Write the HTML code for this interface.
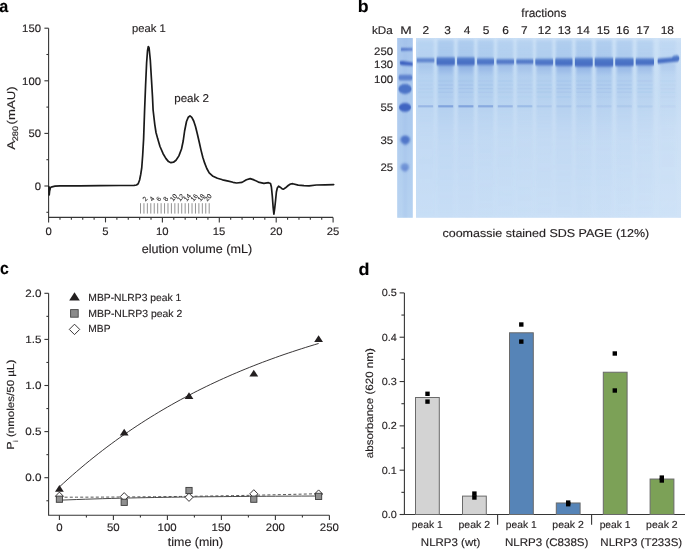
<!DOCTYPE html>
<html><head><meta charset="utf-8"><style>
html,body{margin:0;padding:0;background:#fff;}
body{width:685px;height:549px;overflow:hidden;}
svg{display:block;font-family:"Liberation Sans", sans-serif;will-change:transform;}
text{stroke:#231f20;stroke-width:0.15px;text-rendering:geometricPrecision;}
</style></head><body>
<svg width="685" height="549" viewBox="0 0 685 549">
<defs>
<linearGradient id="gM" x1="0" y1="0" x2="0" y2="1">
 <stop offset="0" stop-color="#a9c7ed"/><stop offset="0.5" stop-color="#afcdef"/><stop offset="1" stop-color="#bad6f2"/>
</linearGradient>
<linearGradient id="gG" x1="0" y1="0" x2="0" y2="1">
 <stop offset="0" stop-color="#c7ddf5"/><stop offset="0.03" stop-color="#bed8f3"/><stop offset="0.3" stop-color="#bdd7f2"/><stop offset="0.5" stop-color="#c4dbf4"/><stop offset="1" stop-color="#c9dff6"/>
</linearGradient>
<linearGradient id="gH" x1="0" y1="0" x2="1" y2="0">
 <stop offset="0" stop-color="#ffffff" stop-opacity="0"/><stop offset="0.6" stop-color="#ffffff" stop-opacity="0.04"/><stop offset="1" stop-color="#ffffff" stop-opacity="0.14"/>
</linearGradient>
<linearGradient id="gL" x1="0" y1="0" x2="0" y2="1">
 <stop offset="0" stop-color="#8ab2e4" stop-opacity="0.3"/><stop offset="0.09" stop-color="#8ab2e4" stop-opacity="0.4"/><stop offset="0.15" stop-color="#8ab2e4" stop-opacity="0.42"/><stop offset="0.34" stop-color="#8ab2e4" stop-opacity="0.24"/><stop offset="0.57" stop-color="#8ab2e4" stop-opacity="0.08"/><stop offset="1" stop-color="#8ab2e4" stop-opacity="0.03"/>
</linearGradient>
<linearGradient id="gSm" x1="0" y1="0" x2="0" y2="1">
 <stop offset="0" stop-color="#6b8fd6" stop-opacity="0.5"/><stop offset="1" stop-color="#6b8fd6" stop-opacity="0"/>
</linearGradient>
<linearGradient id="gGap" x1="0" y1="0" x2="0" y2="1">
 <stop offset="0" stop-color="#d0e5f8" stop-opacity="0.55"/><stop offset="0.45" stop-color="#d0e5f8" stop-opacity="0.3"/><stop offset="0.75" stop-color="#d0e5f8" stop-opacity="0.05"/><stop offset="1" stop-color="#d0e5f8" stop-opacity="0"/>
</linearGradient>
<linearGradient id="gB" x1="0" y1="0" x2="0" y2="1">
 <stop offset="0" stop-color="#5a84cd"/><stop offset="0.4" stop-color="#4b73c6"/><stop offset="1" stop-color="#456bc2"/>
</linearGradient>
<filter id="bl1" x="-20%" y="-20%" width="140%" height="140%"><feGaussianBlur stdDeviation="1.0"/></filter>
<filter id="bl2" x="-20%" y="-50%" width="140%" height="200%"><feGaussianBlur stdDeviation="0.7 1.0"/></filter>
<filter id="bl3" x="-20%" y="-50%" width="140%" height="200%"><feGaussianBlur stdDeviation="0.5"/></filter>
<linearGradient id="gMs" x1="0" y1="0" x2="1" y2="0">
 <stop offset="0" stop-color="#c0d6f2" stop-opacity="0.5"/><stop offset="0.25" stop-color="#9ab8e6" stop-opacity="0"/><stop offset="0.5" stop-color="#9ab8e6" stop-opacity="0.35"/><stop offset="0.75" stop-color="#9ab8e6" stop-opacity="0.1"/><stop offset="1" stop-color="#9ab8e6" stop-opacity="0.2"/>
</linearGradient>
<filter id="bl4" x="-50%" y="-50%" width="200%" height="200%"><feGaussianBlur stdDeviation="1.3"/></filter>
<clipPath id="cmk"><rect x="397.2" y="38" width="15.6" height="179.8"/></clipPath>
<clipPath id="cgel"><rect x="416" y="38" width="265" height="179.8"/></clipPath>
</defs>
<text x="-0.78" y="11.80" font-size="17" font-weight="bold" textLength="9.01" lengthAdjust="spacingAndGlyphs" fill="#000">a</text>
<path d="M48.6,28.20 V217.4 H333.10" fill="none" stroke="#363636" stroke-width="1.1"/>
<line x1="44.40" y1="186.00" x2="48.60" y2="186.00" stroke="#363636" stroke-width="1.1"/>
<text x="34.75" y="189.75" font-size="10.9" textLength="6.29" lengthAdjust="spacingAndGlyphs" fill="#231f20">0</text>
<line x1="44.40" y1="133.40" x2="48.60" y2="133.40" stroke="#363636" stroke-width="1.1"/>
<text x="28.51" y="137.15" font-size="10.9" textLength="12.58" lengthAdjust="spacingAndGlyphs" fill="#231f20">50</text>
<line x1="44.40" y1="80.80" x2="48.60" y2="80.80" stroke="#363636" stroke-width="1.1"/>
<text x="22.14" y="84.55" font-size="10.9" textLength="18.87" lengthAdjust="spacingAndGlyphs" fill="#231f20">100</text>
<line x1="44.40" y1="28.20" x2="48.60" y2="28.20" stroke="#363636" stroke-width="1.1"/>
<text x="22.14" y="31.95" font-size="10.9" textLength="18.87" lengthAdjust="spacingAndGlyphs" fill="#231f20">150</text>
<line x1="46.40" y1="212.30" x2="48.60" y2="212.30" stroke="#363636" stroke-width="1.1"/>
<line x1="46.40" y1="159.70" x2="48.60" y2="159.70" stroke="#363636" stroke-width="1.1"/>
<line x1="46.40" y1="107.10" x2="48.60" y2="107.10" stroke="#363636" stroke-width="1.1"/>
<line x1="46.40" y1="54.50" x2="48.60" y2="54.50" stroke="#363636" stroke-width="1.1"/>
<line x1="48.60" y1="217.40" x2="48.60" y2="222.40" stroke="#363636" stroke-width="1.1"/>
<line x1="59.98" y1="217.40" x2="59.98" y2="219.80" stroke="#363636" stroke-width="1.1"/>
<line x1="71.36" y1="217.40" x2="71.36" y2="219.80" stroke="#363636" stroke-width="1.1"/>
<line x1="82.74" y1="217.40" x2="82.74" y2="219.80" stroke="#363636" stroke-width="1.1"/>
<line x1="94.12" y1="217.40" x2="94.12" y2="219.80" stroke="#363636" stroke-width="1.1"/>
<line x1="105.50" y1="217.40" x2="105.50" y2="222.40" stroke="#363636" stroke-width="1.1"/>
<line x1="116.88" y1="217.40" x2="116.88" y2="219.80" stroke="#363636" stroke-width="1.1"/>
<line x1="128.26" y1="217.40" x2="128.26" y2="219.80" stroke="#363636" stroke-width="1.1"/>
<line x1="139.64" y1="217.40" x2="139.64" y2="219.80" stroke="#363636" stroke-width="1.1"/>
<line x1="151.02" y1="217.40" x2="151.02" y2="219.80" stroke="#363636" stroke-width="1.1"/>
<line x1="162.40" y1="217.40" x2="162.40" y2="222.40" stroke="#363636" stroke-width="1.1"/>
<line x1="173.78" y1="217.40" x2="173.78" y2="219.80" stroke="#363636" stroke-width="1.1"/>
<line x1="185.16" y1="217.40" x2="185.16" y2="219.80" stroke="#363636" stroke-width="1.1"/>
<line x1="196.54" y1="217.40" x2="196.54" y2="219.80" stroke="#363636" stroke-width="1.1"/>
<line x1="207.92" y1="217.40" x2="207.92" y2="219.80" stroke="#363636" stroke-width="1.1"/>
<line x1="219.30" y1="217.40" x2="219.30" y2="222.40" stroke="#363636" stroke-width="1.1"/>
<line x1="230.68" y1="217.40" x2="230.68" y2="219.80" stroke="#363636" stroke-width="1.1"/>
<line x1="242.06" y1="217.40" x2="242.06" y2="219.80" stroke="#363636" stroke-width="1.1"/>
<line x1="253.44" y1="217.40" x2="253.44" y2="219.80" stroke="#363636" stroke-width="1.1"/>
<line x1="264.82" y1="217.40" x2="264.82" y2="219.80" stroke="#363636" stroke-width="1.1"/>
<line x1="276.20" y1="217.40" x2="276.20" y2="222.40" stroke="#363636" stroke-width="1.1"/>
<line x1="287.58" y1="217.40" x2="287.58" y2="219.80" stroke="#363636" stroke-width="1.1"/>
<line x1="298.96" y1="217.40" x2="298.96" y2="219.80" stroke="#363636" stroke-width="1.1"/>
<line x1="310.34" y1="217.40" x2="310.34" y2="219.80" stroke="#363636" stroke-width="1.1"/>
<line x1="321.72" y1="217.40" x2="321.72" y2="219.80" stroke="#363636" stroke-width="1.1"/>
<line x1="333.10" y1="217.40" x2="333.10" y2="222.40" stroke="#363636" stroke-width="1.1"/>
<text x="45.48" y="235.00" font-size="10.9" textLength="6.29" lengthAdjust="spacingAndGlyphs" fill="#231f20">0</text>
<text x="102.31" y="235.00" font-size="10.9" textLength="6.29" lengthAdjust="spacingAndGlyphs" fill="#231f20">5</text>
<text x="155.90" y="235.00" font-size="10.9" textLength="12.58" lengthAdjust="spacingAndGlyphs" fill="#231f20">10</text>
<text x="212.80" y="235.00" font-size="10.9" textLength="12.58" lengthAdjust="spacingAndGlyphs" fill="#231f20">15</text>
<text x="269.90" y="235.00" font-size="10.9" textLength="12.58" lengthAdjust="spacingAndGlyphs" fill="#231f20">20</text>
<text x="326.80" y="235.00" font-size="10.9" textLength="12.58" lengthAdjust="spacingAndGlyphs" fill="#231f20">25</text>
<text x="131.94" y="31.80" font-size="11.1" textLength="33.69" lengthAdjust="spacingAndGlyphs" fill="#231f20">peak 1</text>
<text x="174.23" y="101.90" font-size="11.3" textLength="34.81" lengthAdjust="spacingAndGlyphs" fill="#231f20">peak 2</text>
<text x="141.79" y="252.60" font-size="12.2" textLength="110.33" lengthAdjust="spacingAndGlyphs" fill="#231f20">elution volume (mL)</text>
<text transform="translate(14.60,149.70) rotate(-90)" x="-0.00" y="0" font-size="11.2" textLength="9.10" lengthAdjust="spacingAndGlyphs" fill="#231f20">A</text>
<text transform="translate(17.60,140.90) rotate(-90)" x="-0.43" y="0" font-size="8.0" textLength="15.44" lengthAdjust="spacingAndGlyphs" fill="#231f20">280</text>
<text transform="translate(14.60,123.70) rotate(-90)" x="-0.73" y="0" font-size="11.2" textLength="38.00" lengthAdjust="spacingAndGlyphs" fill="#231f20">(mAU)</text>
<line x1="140.50" y1="203.20" x2="140.50" y2="213.60" stroke="#777" stroke-width="0.8"/>
<line x1="143.94" y1="203.20" x2="143.94" y2="213.60" stroke="#777" stroke-width="0.8"/>
<line x1="147.37" y1="203.20" x2="147.37" y2="213.60" stroke="#777" stroke-width="0.8"/>
<line x1="150.81" y1="203.20" x2="150.81" y2="213.60" stroke="#777" stroke-width="0.8"/>
<line x1="154.24" y1="203.20" x2="154.24" y2="213.60" stroke="#777" stroke-width="0.8"/>
<line x1="157.68" y1="203.20" x2="157.68" y2="213.60" stroke="#777" stroke-width="0.8"/>
<line x1="161.11" y1="203.20" x2="161.11" y2="213.60" stroke="#777" stroke-width="0.8"/>
<line x1="164.54" y1="203.20" x2="164.54" y2="213.60" stroke="#777" stroke-width="0.8"/>
<line x1="167.98" y1="203.20" x2="167.98" y2="213.60" stroke="#777" stroke-width="0.8"/>
<line x1="171.41" y1="203.20" x2="171.41" y2="213.60" stroke="#777" stroke-width="0.8"/>
<line x1="174.85" y1="203.20" x2="174.85" y2="213.60" stroke="#777" stroke-width="0.8"/>
<line x1="178.28" y1="203.20" x2="178.28" y2="213.60" stroke="#777" stroke-width="0.8"/>
<line x1="181.72" y1="203.20" x2="181.72" y2="213.60" stroke="#777" stroke-width="0.8"/>
<line x1="185.16" y1="203.20" x2="185.16" y2="213.60" stroke="#777" stroke-width="0.8"/>
<line x1="188.59" y1="203.20" x2="188.59" y2="213.60" stroke="#777" stroke-width="0.8"/>
<line x1="192.02" y1="203.20" x2="192.02" y2="213.60" stroke="#777" stroke-width="0.8"/>
<line x1="195.46" y1="203.20" x2="195.46" y2="213.60" stroke="#777" stroke-width="0.8"/>
<line x1="198.89" y1="203.20" x2="198.89" y2="213.60" stroke="#777" stroke-width="0.8"/>
<line x1="202.33" y1="203.20" x2="202.33" y2="213.60" stroke="#777" stroke-width="0.8"/>
<line x1="205.76" y1="203.20" x2="205.76" y2="213.60" stroke="#777" stroke-width="0.8"/>
<line x1="209.20" y1="203.20" x2="209.20" y2="213.60" stroke="#777" stroke-width="0.8"/>
<text transform="translate(145.53,201.7) rotate(-50)" font-size="6.6" fill="#222" style="stroke-width:0.1px">2</text>
<text transform="translate(152.41,201.7) rotate(-50)" font-size="6.6" fill="#222" style="stroke-width:0.1px">4</text>
<text transform="translate(159.28,201.7) rotate(-50)" font-size="6.6" fill="#222" style="stroke-width:0.1px">6</text>
<text transform="translate(166.14,201.7) rotate(-50)" font-size="6.6" fill="#222" style="stroke-width:0.1px">8</text>
<text transform="translate(173.01,201.7) rotate(-50)" font-size="6.6" fill="#222" style="stroke-width:0.1px">10</text>
<text transform="translate(179.88,201.7) rotate(-50)" font-size="6.6" fill="#222" style="stroke-width:0.1px">12</text>
<text transform="translate(186.75,201.7) rotate(-50)" font-size="6.6" fill="#222" style="stroke-width:0.1px">14</text>
<text transform="translate(193.62,201.7) rotate(-50)" font-size="6.6" fill="#222" style="stroke-width:0.1px">16</text>
<text transform="translate(200.49,201.7) rotate(-50)" font-size="6.6" fill="#222" style="stroke-width:0.1px">18</text>
<text transform="translate(207.36,201.7) rotate(-50)" font-size="6.6" fill="#222" style="stroke-width:0.1px">20</text>
<path d="M48.90,186.50 L49.20,195.00 L49.60,191.00 L50.50,187.50 L52.00,186.80 L55.00,186.20 L60.00,185.90 L80.00,185.80 L100.00,185.60 L120.00,185.50 L130.00,185.50 L134.00,185.40 L136.50,185.00 L138.20,183.80 L139.60,180.00 L140.70,174.50 L141.70,168.20 L142.70,155.00 L143.60,139.10 L144.60,110.00 L145.60,85.00 L146.60,63.00 L147.50,51.00 L148.30,46.50 L149.10,48.00 L150.30,60.00 L151.50,80.00 L152.50,97.00 L153.10,110.00 L154.80,124.60 L156.00,132.50 L157.80,139.10 L160.00,146.50 L163.10,153.70 L166.00,158.60 L168.50,161.60 L170.90,162.70 L173.50,162.20 L176.00,160.30 L178.90,155.90 L181.50,149.00 L183.20,141.00 L184.60,131.00 L186.50,121.50 L188.30,117.20 L190.00,115.90 L191.80,117.30 L193.70,121.00 L195.50,126.50 L197.30,133.70 L199.20,142.00 L201.00,150.10 L202.80,157.30 L204.60,162.90 L206.80,168.50 L209.20,172.90 L212.50,175.90 L217.40,178.30 L222.50,179.80 L228.30,181.10 L233.00,182.30 L236.60,183.00 L242.00,182.40 L246.40,179.70 L250.20,178.60 L254.00,179.90 L258.40,182.10 L263.90,183.30 L268.50,182.70 L270.50,183.50 L271.40,187.00 L272.30,196.00 L273.20,208.00 L273.90,214.10 L274.70,208.50 L275.60,200.00 L276.40,192.00 L277.30,188.00 L278.60,186.20 L280.20,187.20 L282.20,188.80 L283.60,189.10 L285.50,187.80 L288.20,185.50 L290.50,184.00 L292.70,183.70 L298.20,185.10 L304.00,185.70 L309.10,185.90 L316.40,185.00 L325.00,184.80 L333.70,184.60" fill="none" stroke="#1a1a1a" stroke-width="1.7" stroke-linejoin="round" stroke-linecap="round"/>
<text x="357.73" y="11.80" font-size="17" font-weight="bold" textLength="10.84" lengthAdjust="spacingAndGlyphs" fill="#000">b</text>
<text x="521.37" y="16.70" font-size="11.9" textLength="45.00" lengthAdjust="spacingAndGlyphs" fill="#231f20">fractions</text>
<text x="371.91" y="34.10" font-size="11.0" textLength="20.73" lengthAdjust="spacingAndGlyphs" fill="#231f20">kDa</text>
<text x="400.31" y="34.10" font-size="11.0" textLength="11.43" lengthAdjust="spacingAndGlyphs" fill="#231f20">M</text>
<text x="422.64" y="33.90" font-size="11.3" textLength="6.63" lengthAdjust="spacingAndGlyphs" fill="#231f20">2</text>
<text x="444.15" y="33.90" font-size="11.3" textLength="6.63" lengthAdjust="spacingAndGlyphs" fill="#231f20">3</text>
<text x="463.79" y="33.90" font-size="11.3" textLength="6.63" lengthAdjust="spacingAndGlyphs" fill="#231f20">4</text>
<text x="482.69" y="33.90" font-size="11.3" textLength="6.63" lengthAdjust="spacingAndGlyphs" fill="#231f20">5</text>
<text x="502.29" y="33.90" font-size="11.3" textLength="6.63" lengthAdjust="spacingAndGlyphs" fill="#231f20">6</text>
<text x="521.02" y="33.90" font-size="11.3" textLength="6.63" lengthAdjust="spacingAndGlyphs" fill="#231f20">7</text>
<text x="537.88" y="33.90" font-size="11.3" textLength="13.26" lengthAdjust="spacingAndGlyphs" fill="#231f20">12</text>
<text x="557.68" y="33.90" font-size="11.3" textLength="13.26" lengthAdjust="spacingAndGlyphs" fill="#231f20">13</text>
<text x="576.54" y="33.90" font-size="11.3" textLength="13.26" lengthAdjust="spacingAndGlyphs" fill="#231f20">14</text>
<text x="596.68" y="33.90" font-size="11.3" textLength="13.26" lengthAdjust="spacingAndGlyphs" fill="#231f20">15</text>
<text x="616.08" y="33.90" font-size="11.3" textLength="13.26" lengthAdjust="spacingAndGlyphs" fill="#231f20">16</text>
<text x="636.28" y="33.90" font-size="11.3" textLength="13.26" lengthAdjust="spacingAndGlyphs" fill="#231f20">17</text>
<text x="660.68" y="33.90" font-size="11.3" textLength="13.26" lengthAdjust="spacingAndGlyphs" fill="#231f20">18</text>
<text x="374.06" y="55.40" font-size="10.9" textLength="19.05" lengthAdjust="spacingAndGlyphs" fill="#231f20">250</text>
<text x="374.06" y="68.35" font-size="10.9" textLength="19.05" lengthAdjust="spacingAndGlyphs" fill="#231f20">130</text>
<text x="374.06" y="83.30" font-size="10.9" textLength="19.05" lengthAdjust="spacingAndGlyphs" fill="#231f20">100</text>
<text x="380.49" y="111.15" font-size="10.9" textLength="12.70" lengthAdjust="spacingAndGlyphs" fill="#231f20">55</text>
<text x="380.49" y="144.15" font-size="10.9" textLength="12.70" lengthAdjust="spacingAndGlyphs" fill="#231f20">35</text>
<text x="380.49" y="171.20" font-size="10.9" textLength="12.70" lengthAdjust="spacingAndGlyphs" fill="#231f20">25</text>
<text x="442.45" y="236.70" font-size="11.4" textLength="206.80" lengthAdjust="spacingAndGlyphs" fill="#231f20">coomassie stained SDS PAGE (12%)</text>
<rect x="397.2" y="38" width="15.6" height="179.8" fill="url(#gM)"/>
<rect x="416" y="38" width="265" height="179.8" fill="url(#gG)"/>
<rect x="416" y="38" width="265" height="179.8" fill="url(#gH)"/>
<g clip-path="url(#cgel)">
<g filter="url(#bl1)">
<rect x="434.05" y="38" width="3.2" height="150" fill="url(#gGap)"/>
<rect x="454.20" y="38" width="3.2" height="150" fill="url(#gGap)"/>
<rect x="474.15" y="38" width="3.2" height="150" fill="url(#gGap)"/>
<rect x="493.85" y="38" width="3.2" height="150" fill="url(#gGap)"/>
<rect x="513.45" y="38" width="3.2" height="150" fill="url(#gGap)"/>
<rect x="532.90" y="38" width="3.2" height="150" fill="url(#gGap)"/>
<rect x="552.45" y="38" width="3.2" height="150" fill="url(#gGap)"/>
<rect x="572.25" y="38" width="3.2" height="150" fill="url(#gGap)"/>
<rect x="592.30" y="38" width="3.2" height="150" fill="url(#gGap)"/>
<rect x="612.60" y="38" width="3.2" height="150" fill="url(#gGap)"/>
<rect x="633.05" y="38" width="3.2" height="150" fill="url(#gGap)"/>
<rect x="654.85" y="38" width="3.2" height="150" fill="url(#gGap)"/>
</g>
<g filter="url(#bl1)">
<rect x="417.60" y="40" width="16" height="175" fill="url(#gL)" opacity="0.40"/>
<rect x="418.10" y="64" width="15" height="12" fill="url(#gSm)" opacity="0.40"/>
<rect x="437.70" y="40" width="16" height="175" fill="url(#gL)" opacity="1.00"/>
<rect x="438.20" y="64" width="15" height="12" fill="url(#gSm)" opacity="1.00"/>
<rect x="457.90" y="40" width="16" height="175" fill="url(#gL)" opacity="1.00"/>
<rect x="458.40" y="64" width="15" height="12" fill="url(#gSm)" opacity="1.00"/>
<rect x="477.60" y="40" width="16" height="175" fill="url(#gL)" opacity="0.85"/>
<rect x="478.10" y="64" width="15" height="12" fill="url(#gSm)" opacity="0.85"/>
<rect x="497.30" y="40" width="16" height="175" fill="url(#gL)" opacity="0.60"/>
<rect x="497.80" y="64" width="15" height="12" fill="url(#gSm)" opacity="0.60"/>
<rect x="516.80" y="40" width="16" height="175" fill="url(#gL)" opacity="0.55"/>
<rect x="517.30" y="64" width="15" height="12" fill="url(#gSm)" opacity="0.55"/>
<rect x="536.20" y="40" width="16" height="175" fill="url(#gL)" opacity="0.70"/>
<rect x="536.70" y="64" width="15" height="12" fill="url(#gSm)" opacity="0.70"/>
<rect x="555.90" y="40" width="16" height="175" fill="url(#gL)" opacity="0.95"/>
<rect x="556.40" y="64" width="15" height="12" fill="url(#gSm)" opacity="0.95"/>
<rect x="575.80" y="40" width="16" height="175" fill="url(#gL)" opacity="1.00"/>
<rect x="576.30" y="64" width="15" height="12" fill="url(#gSm)" opacity="1.00"/>
<rect x="596.00" y="40" width="16" height="175" fill="url(#gL)" opacity="1.00"/>
<rect x="596.50" y="64" width="15" height="12" fill="url(#gSm)" opacity="1.00"/>
<rect x="616.40" y="40" width="16" height="175" fill="url(#gL)" opacity="0.90"/>
<rect x="616.90" y="64" width="15" height="12" fill="url(#gSm)" opacity="0.90"/>
<rect x="636.90" y="40" width="16" height="175" fill="url(#gL)" opacity="0.75"/>
<rect x="637.40" y="64" width="15" height="12" fill="url(#gSm)" opacity="0.75"/>
<rect x="660.00" y="40" width="16" height="175" fill="url(#gL)" opacity="0.35"/>
<rect x="660.50" y="64" width="15" height="12" fill="url(#gSm)" opacity="0.35"/>
</g>
<g filter="url(#bl3)">
<rect x="418.10" y="80.40" width="15" height="1.2" fill="#5a80cc" opacity="0.032"/>
<rect x="418.10" y="84.40" width="15" height="1.2" fill="#5a80cc" opacity="0.044"/>
<rect x="418.10" y="88.00" width="15" height="1.2" fill="#5a80cc" opacity="0.044"/>
<rect x="418.10" y="91.60" width="15" height="1.2" fill="#5a80cc" opacity="0.040"/>
<rect x="418.10" y="96.40" width="15" height="1.2" fill="#5a80cc" opacity="0.020"/>
<rect x="438.20" y="80.40" width="15" height="1.2" fill="#5a80cc" opacity="0.080"/>
<rect x="438.20" y="84.40" width="15" height="1.2" fill="#5a80cc" opacity="0.110"/>
<rect x="438.20" y="88.00" width="15" height="1.2" fill="#5a80cc" opacity="0.110"/>
<rect x="438.20" y="91.60" width="15" height="1.2" fill="#5a80cc" opacity="0.100"/>
<rect x="438.20" y="96.40" width="15" height="1.2" fill="#5a80cc" opacity="0.050"/>
<rect x="458.40" y="80.40" width="15" height="1.2" fill="#5a80cc" opacity="0.080"/>
<rect x="458.40" y="84.40" width="15" height="1.2" fill="#5a80cc" opacity="0.110"/>
<rect x="458.40" y="88.00" width="15" height="1.2" fill="#5a80cc" opacity="0.110"/>
<rect x="458.40" y="91.60" width="15" height="1.2" fill="#5a80cc" opacity="0.100"/>
<rect x="458.40" y="96.40" width="15" height="1.2" fill="#5a80cc" opacity="0.050"/>
<rect x="478.10" y="80.40" width="15" height="1.2" fill="#5a80cc" opacity="0.068"/>
<rect x="478.10" y="84.40" width="15" height="1.2" fill="#5a80cc" opacity="0.093"/>
<rect x="478.10" y="88.00" width="15" height="1.2" fill="#5a80cc" opacity="0.093"/>
<rect x="478.10" y="91.60" width="15" height="1.2" fill="#5a80cc" opacity="0.085"/>
<rect x="478.10" y="96.40" width="15" height="1.2" fill="#5a80cc" opacity="0.043"/>
<rect x="497.80" y="80.40" width="15" height="1.2" fill="#5a80cc" opacity="0.048"/>
<rect x="497.80" y="84.40" width="15" height="1.2" fill="#5a80cc" opacity="0.066"/>
<rect x="497.80" y="88.00" width="15" height="1.2" fill="#5a80cc" opacity="0.066"/>
<rect x="497.80" y="91.60" width="15" height="1.2" fill="#5a80cc" opacity="0.060"/>
<rect x="497.80" y="96.40" width="15" height="1.2" fill="#5a80cc" opacity="0.030"/>
<rect x="517.30" y="80.40" width="15" height="1.2" fill="#5a80cc" opacity="0.044"/>
<rect x="517.30" y="84.40" width="15" height="1.2" fill="#5a80cc" opacity="0.061"/>
<rect x="517.30" y="88.00" width="15" height="1.2" fill="#5a80cc" opacity="0.061"/>
<rect x="517.30" y="91.60" width="15" height="1.2" fill="#5a80cc" opacity="0.055"/>
<rect x="517.30" y="96.40" width="15" height="1.2" fill="#5a80cc" opacity="0.028"/>
<rect x="536.70" y="80.40" width="15" height="1.2" fill="#5a80cc" opacity="0.056"/>
<rect x="536.70" y="84.40" width="15" height="1.2" fill="#5a80cc" opacity="0.077"/>
<rect x="536.70" y="88.00" width="15" height="1.2" fill="#5a80cc" opacity="0.077"/>
<rect x="536.70" y="91.60" width="15" height="1.2" fill="#5a80cc" opacity="0.070"/>
<rect x="536.70" y="96.40" width="15" height="1.2" fill="#5a80cc" opacity="0.035"/>
<rect x="556.40" y="80.40" width="15" height="1.2" fill="#5a80cc" opacity="0.076"/>
<rect x="556.40" y="84.40" width="15" height="1.2" fill="#5a80cc" opacity="0.104"/>
<rect x="556.40" y="88.00" width="15" height="1.2" fill="#5a80cc" opacity="0.104"/>
<rect x="556.40" y="91.60" width="15" height="1.2" fill="#5a80cc" opacity="0.095"/>
<rect x="556.40" y="96.40" width="15" height="1.2" fill="#5a80cc" opacity="0.048"/>
<rect x="576.30" y="80.40" width="15" height="1.2" fill="#5a80cc" opacity="0.080"/>
<rect x="576.30" y="84.40" width="15" height="1.2" fill="#5a80cc" opacity="0.110"/>
<rect x="576.30" y="88.00" width="15" height="1.2" fill="#5a80cc" opacity="0.110"/>
<rect x="576.30" y="91.60" width="15" height="1.2" fill="#5a80cc" opacity="0.100"/>
<rect x="576.30" y="96.40" width="15" height="1.2" fill="#5a80cc" opacity="0.050"/>
<rect x="596.50" y="80.40" width="15" height="1.2" fill="#5a80cc" opacity="0.080"/>
<rect x="596.50" y="84.40" width="15" height="1.2" fill="#5a80cc" opacity="0.110"/>
<rect x="596.50" y="88.00" width="15" height="1.2" fill="#5a80cc" opacity="0.110"/>
<rect x="596.50" y="91.60" width="15" height="1.2" fill="#5a80cc" opacity="0.100"/>
<rect x="596.50" y="96.40" width="15" height="1.2" fill="#5a80cc" opacity="0.050"/>
<rect x="616.90" y="80.40" width="15" height="1.2" fill="#5a80cc" opacity="0.072"/>
<rect x="616.90" y="84.40" width="15" height="1.2" fill="#5a80cc" opacity="0.099"/>
<rect x="616.90" y="88.00" width="15" height="1.2" fill="#5a80cc" opacity="0.099"/>
<rect x="616.90" y="91.60" width="15" height="1.2" fill="#5a80cc" opacity="0.090"/>
<rect x="616.90" y="96.40" width="15" height="1.2" fill="#5a80cc" opacity="0.045"/>
<rect x="637.40" y="80.40" width="15" height="1.2" fill="#5a80cc" opacity="0.060"/>
<rect x="637.40" y="84.40" width="15" height="1.2" fill="#5a80cc" opacity="0.083"/>
<rect x="637.40" y="88.00" width="15" height="1.2" fill="#5a80cc" opacity="0.083"/>
<rect x="637.40" y="91.60" width="15" height="1.2" fill="#5a80cc" opacity="0.075"/>
<rect x="637.40" y="96.40" width="15" height="1.2" fill="#5a80cc" opacity="0.038"/>
<rect x="660.50" y="80.40" width="15" height="1.2" fill="#5a80cc" opacity="0.028"/>
<rect x="660.50" y="84.40" width="15" height="1.2" fill="#5a80cc" opacity="0.038"/>
<rect x="660.50" y="88.00" width="15" height="1.2" fill="#5a80cc" opacity="0.038"/>
<rect x="660.50" y="91.60" width="15" height="1.2" fill="#5a80cc" opacity="0.035"/>
<rect x="660.50" y="96.40" width="15" height="1.2" fill="#5a80cc" opacity="0.017"/>
<rect x="418.10" y="105.2" width="15" height="2.2" fill="#4a72c8" opacity="0.30"/>
<rect x="438.20" y="105.2" width="15" height="2.2" fill="#4a72c8" opacity="0.48"/>
<rect x="458.40" y="105.2" width="15" height="2.2" fill="#4a72c8" opacity="0.48"/>
<rect x="478.10" y="105.2" width="15" height="2.2" fill="#4a72c8" opacity="0.42"/>
<rect x="497.80" y="105.2" width="15" height="2.2" fill="#4a72c8" opacity="0.32"/>
<rect x="517.30" y="105.2" width="15" height="2.2" fill="#4a72c8" opacity="0.26"/>
<rect x="536.70" y="105.2" width="15" height="2.2" fill="#4a72c8" opacity="0.12"/>
<rect x="556.40" y="105.2" width="15" height="2.2" fill="#4a72c8" opacity="0.12"/>
<rect x="576.30" y="105.2" width="15" height="2.2" fill="#4a72c8" opacity="0.10"/>
<rect x="596.50" y="105.2" width="15" height="2.2" fill="#4a72c8" opacity="0.10"/>
<rect x="616.90" y="105.2" width="15" height="2.2" fill="#4a72c8" opacity="0.10"/>
<rect x="637.40" y="105.2" width="15" height="2.2" fill="#4a72c8" opacity="0.08"/>
<rect x="660.50" y="105.2" width="15" height="2.2" fill="#4a72c8" opacity="0.04"/>
</g>
<g filter="url(#bl2)">
<rect x="416.80" y="57.90" width="17.60" height="4.60" rx="0.8" fill="url(#gB)" opacity="0.8"/>
<rect x="436.60" y="57.20" width="18.20" height="8.00" rx="0.8" fill="url(#gB)" opacity="1"/>
<rect x="457.10" y="57.30" width="17.50" height="8.00" rx="0.8" fill="url(#gB)" opacity="1"/>
<rect x="477.10" y="58.20" width="16.90" height="6.60" rx="0.8" fill="url(#gB)" opacity="0.95"/>
<rect x="496.50" y="58.90" width="17.60" height="5.40" rx="0.8" fill="url(#gB)" opacity="0.9"/>
<rect x="516.30" y="59.10" width="17.00" height="5.00" rx="0.8" fill="url(#gB)" opacity="0.9"/>
<rect x="535.30" y="58.80" width="17.80" height="6.40" rx="0.8" fill="url(#gB)" opacity="0.95"/>
<rect x="555.30" y="58.30" width="17.20" height="7.40" rx="0.8" fill="url(#gB)" opacity="1"/>
<rect x="574.90" y="57.80" width="17.80" height="8.80" rx="0.8" fill="url(#gB)" opacity="1"/>
<rect x="594.70" y="57.80" width="18.50" height="8.80" rx="0.8" fill="url(#gB)" opacity="1"/>
<rect x="615.20" y="58.00" width="18.40" height="8.00" rx="0.8" fill="url(#gB)" opacity="1"/>
<rect x="635.70" y="58.30" width="18.30" height="7.00" rx="0.8" fill="url(#gB)" opacity="1"/>
<path d="M657.6,59.4 Q657.8,58.4 659.5,58.4 L671.5,57.4 Q673.8,55.3 676.6,55.3 Q679.4,55.6 679.4,58.4 Q679.2,61.4 676.4,61.8 L659.5,63.6 Q657.6,63.7 657.6,62.4 Z" fill="url(#gB)"/>
</g>
</g>
<rect x="397.2" y="38" width="15.6" height="179.8" fill="url(#gMs)" filter="url(#bl1)" clip-path="url(#cmk)"/>
<g filter="url(#bl2)">
<path d="M400.8,48.9 Q401,48.2 402.5,48.3 L412.3,48.4 L412.3,50.2 L402.5,50.6 Q400.8,50.6 400.8,49.9 Z" fill="#3a5fbf"/>
<path d="M399.8,61.6 Q400.5,60.8 403,61.0 L412.6,62.4 L412.6,65.8 L403,65.2 Q399.6,64.6 399.8,63.2 Z" fill="#3a5fbf"/>
<rect x="398.6" y="74.8" width="13.6" height="5.6" rx="2" fill="#4b71c6" opacity="0.8"/>
<ellipse cx="405" cy="89" rx="6.6" ry="5.0" fill="#4068c2" opacity="0.88"/>
<ellipse cx="405" cy="107.3" rx="6.1" ry="4.4" fill="#3a60c0" opacity="0.95"/>
</g>
<g filter="url(#bl4)">
<ellipse cx="405.2" cy="139.8" rx="4.8" ry="4.2" fill="#3e66c2" opacity="0.85"/>
<path d="M401.5,141 Q405,150 409.5,141 Z" fill="#5579ca" opacity="0.5"/>
<ellipse cx="404.8" cy="167.0" rx="4.2" ry="3.8" fill="#4a70c8" opacity="0.6"/>
<path d="M401.5,168 Q405,177 408.5,168 Z" fill="#5579ca" opacity="0.35"/>
</g>
<text x="-0.08" y="274.40" font-size="17" font-weight="bold" textLength="8.81" lengthAdjust="spacingAndGlyphs" fill="#000">c</text>
<path d="M48.6,293.30 V515.2 H329.40" fill="none" stroke="#363636" stroke-width="1.1"/>
<line x1="44.40" y1="477.70" x2="48.60" y2="477.70" stroke="#363636" stroke-width="1.1"/>
<text x="25.19" y="481.30" font-size="10.6" textLength="16.24" lengthAdjust="spacingAndGlyphs" fill="#231f20">0.0</text>
<line x1="44.40" y1="431.60" x2="48.60" y2="431.60" stroke="#363636" stroke-width="1.1"/>
<text x="25.19" y="435.20" font-size="10.6" textLength="16.24" lengthAdjust="spacingAndGlyphs" fill="#231f20">0.5</text>
<line x1="44.40" y1="385.50" x2="48.60" y2="385.50" stroke="#363636" stroke-width="1.1"/>
<text x="25.19" y="389.10" font-size="10.6" textLength="16.24" lengthAdjust="spacingAndGlyphs" fill="#231f20">1.0</text>
<line x1="44.40" y1="339.40" x2="48.60" y2="339.40" stroke="#363636" stroke-width="1.1"/>
<text x="25.19" y="343.00" font-size="10.6" textLength="16.24" lengthAdjust="spacingAndGlyphs" fill="#231f20">1.5</text>
<line x1="44.40" y1="293.30" x2="48.60" y2="293.30" stroke="#363636" stroke-width="1.1"/>
<text x="25.19" y="296.90" font-size="10.6" textLength="16.24" lengthAdjust="spacingAndGlyphs" fill="#231f20">2.0</text>
<line x1="46.40" y1="500.75" x2="48.60" y2="500.75" stroke="#363636" stroke-width="1.1"/>
<line x1="46.40" y1="454.65" x2="48.60" y2="454.65" stroke="#363636" stroke-width="1.1"/>
<line x1="46.40" y1="408.55" x2="48.60" y2="408.55" stroke="#363636" stroke-width="1.1"/>
<line x1="46.40" y1="362.45" x2="48.60" y2="362.45" stroke="#363636" stroke-width="1.1"/>
<line x1="46.40" y1="316.35" x2="48.60" y2="316.35" stroke="#363636" stroke-width="1.1"/>
<line x1="59.40" y1="515.20" x2="59.40" y2="519.90" stroke="#363636" stroke-width="1.1"/>
<line x1="86.40" y1="515.20" x2="86.40" y2="517.60" stroke="#363636" stroke-width="1.1"/>
<line x1="113.40" y1="515.20" x2="113.40" y2="519.90" stroke="#363636" stroke-width="1.1"/>
<line x1="140.40" y1="515.20" x2="140.40" y2="517.60" stroke="#363636" stroke-width="1.1"/>
<line x1="167.40" y1="515.20" x2="167.40" y2="519.90" stroke="#363636" stroke-width="1.1"/>
<line x1="194.40" y1="515.20" x2="194.40" y2="517.60" stroke="#363636" stroke-width="1.1"/>
<line x1="221.40" y1="515.20" x2="221.40" y2="519.90" stroke="#363636" stroke-width="1.1"/>
<line x1="248.40" y1="515.20" x2="248.40" y2="517.60" stroke="#363636" stroke-width="1.1"/>
<line x1="275.40" y1="515.20" x2="275.40" y2="519.90" stroke="#363636" stroke-width="1.1"/>
<line x1="302.40" y1="515.20" x2="302.40" y2="517.60" stroke="#363636" stroke-width="1.1"/>
<line x1="329.40" y1="515.20" x2="329.40" y2="519.90" stroke="#363636" stroke-width="1.1"/>
<text x="56.25" y="530.90" font-size="10.9" textLength="6.35" lengthAdjust="spacingAndGlyphs" fill="#231f20">0</text>
<text x="107.03" y="530.90" font-size="10.9" textLength="12.70" lengthAdjust="spacingAndGlyphs" fill="#231f20">50</text>
<text x="157.62" y="530.90" font-size="10.9" textLength="19.05" lengthAdjust="spacingAndGlyphs" fill="#231f20">100</text>
<text x="211.62" y="530.90" font-size="10.9" textLength="19.05" lengthAdjust="spacingAndGlyphs" fill="#231f20">150</text>
<text x="265.82" y="530.90" font-size="10.9" textLength="19.05" lengthAdjust="spacingAndGlyphs" fill="#231f20">200</text>
<text x="319.82" y="530.90" font-size="10.9" textLength="19.05" lengthAdjust="spacingAndGlyphs" fill="#231f20">250</text>
<text x="167.87" y="545.60" font-size="12.2" textLength="55.23" lengthAdjust="spacingAndGlyphs" fill="#231f20">time (min)</text>
<text transform="translate(14.20,448.80) rotate(-90)" x="-1.07" y="0" font-size="10.2" textLength="8.39" lengthAdjust="spacingAndGlyphs" fill="#231f20">P</text>
<text transform="translate(18.1,441.9) rotate(-90)" font-size="7" fill="#231f20">i</text>
<text transform="translate(14.20,436.40) rotate(-90)" x="-0.71" y="0" font-size="10.2" textLength="77.40" lengthAdjust="spacingAndGlyphs" fill="#231f20">(nmoles/50 µL)</text>
<path d="M69.2,300.5 L74.5,292.3 L79.8,300.5 Z" fill="#231f20"/>
<rect x="70.6" y="309.6" width="7.6" height="7.6" fill="#8a8a8a" stroke="#444" stroke-width="0.9"/>
<path d="M69.3,329.4 L74.5,324.2 L79.7,329.4 L74.5,334.6 Z" fill="#fff" stroke="#231f20" stroke-width="0.9"/>
<text x="88.32" y="300.90" font-size="10.3" textLength="92.90" lengthAdjust="spacingAndGlyphs" fill="#231f20">MBP-NLRP3 peak 1</text>
<text x="88.31" y="317.00" font-size="10.3" textLength="93.92" lengthAdjust="spacingAndGlyphs" fill="#231f20">MBP-NLRP3 peak 2</text>
<text x="88.33" y="331.90" font-size="10.3" textLength="22.16" lengthAdjust="spacingAndGlyphs" fill="#231f20">MBP</text>
<path d="M59.40,486.92 L63.72,482.94 L68.04,479.04 L72.36,475.21 L76.68,471.46 L81.00,467.78 L85.32,464.16 L89.64,460.61 L93.96,457.14 L98.28,453.72 L102.60,450.37 L106.92,447.09 L111.24,443.86 L115.56,440.70 L119.88,437.60 L124.20,434.55 L128.52,431.57 L132.84,428.64 L137.16,425.76 L141.48,422.94 L145.80,420.17 L150.12,417.46 L154.44,414.80 L158.76,412.18 L163.08,409.62 L167.40,407.10 L171.72,404.64 L176.04,402.21 L180.36,399.84 L184.68,397.51 L189.00,395.22 L193.32,392.98 L197.64,390.78 L201.96,388.62 L206.28,386.50 L210.60,384.42 L214.92,382.38 L219.24,380.38 L223.56,378.42 L227.88,376.49 L232.20,374.60 L236.52,372.75 L240.84,370.93 L245.16,369.15 L249.48,367.40 L253.80,365.68 L258.12,363.99 L262.44,362.34 L266.76,360.72 L271.08,359.13 L275.40,357.57 L279.72,356.03 L284.04,354.53 L288.36,353.06 L292.68,351.61 L297.00,350.19 L301.32,348.80 L305.64,347.43 L309.96,346.09 L314.28,344.78 L318.60,343.49" fill="none" stroke="#231f20" stroke-width="0.9"/>
<path d="M59.40,500.20 L68.04,499.85 L76.68,499.52 L85.32,499.22 L93.96,498.94 L102.60,498.68 L111.24,498.45 L119.88,498.23 L128.52,498.03 L137.16,497.84 L145.80,497.67 L154.44,497.51 L163.08,497.36 L171.72,497.23 L180.36,497.10 L189.00,496.99 L197.64,496.88 L206.28,496.78 L214.92,496.69 L223.56,496.61 L232.20,496.53 L240.84,496.46 L249.48,496.39 L258.12,496.33 L266.76,496.27 L275.40,496.22 L284.04,496.17 L292.68,496.13 L301.32,496.09 L309.96,496.05 L318.60,496.02" fill="none" stroke="#333" stroke-width="0.9"/>
<path d="M59.40,497.20 L68.04,497.20 L76.68,497.18 L85.32,497.16 L93.96,497.14 L102.60,497.10 L111.24,497.06 L119.88,497.01 L128.52,496.95 L137.16,496.88 L145.80,496.81 L154.44,496.73 L163.08,496.64 L171.72,496.54 L180.36,496.44 L189.00,496.32 L197.64,496.20 L206.28,496.08 L214.92,495.94 L223.56,495.80 L232.20,495.64 L240.84,495.48 L249.48,495.32 L258.12,495.14 L266.76,494.96 L275.40,494.77 L284.04,494.57 L292.68,494.36 L301.32,494.15 L309.96,493.93 L318.60,493.70" fill="none" stroke="#444" stroke-width="0.9" stroke-dasharray="3,2.2"/>
<path d="M55.40,496.20 L59.40,492.10 L63.40,496.20 L59.40,500.30 Z" fill="#fff" stroke="#231f20" stroke-width="0.9"/>
<path d="M120.20,496.70 L124.20,492.60 L128.20,496.70 L124.20,500.80 Z" fill="#fff" stroke="#231f20" stroke-width="0.9"/>
<path d="M185.00,497.30 L189.00,493.20 L193.00,497.30 L189.00,501.40 Z" fill="#fff" stroke="#231f20" stroke-width="0.9"/>
<path d="M249.80,493.80 L253.80,489.70 L257.80,493.80 L253.80,497.90 Z" fill="#fff" stroke="#231f20" stroke-width="0.9"/>
<path d="M314.60,494.00 L318.60,489.90 L322.60,494.00 L318.60,498.10 Z" fill="#fff" stroke="#231f20" stroke-width="0.9"/>
<rect x="56.30" y="496.10" width="6.2" height="6.2" fill="#8f8f8f" stroke="#3a3a3a" stroke-width="0.9"/>
<rect x="121.10" y="499.20" width="6.2" height="6.2" fill="#8f8f8f" stroke="#3a3a3a" stroke-width="0.9"/>
<rect x="185.90" y="487.40" width="6.2" height="6.2" fill="#8f8f8f" stroke="#3a3a3a" stroke-width="0.9"/>
<rect x="250.70" y="496.10" width="6.2" height="6.2" fill="#8f8f8f" stroke="#3a3a3a" stroke-width="0.9"/>
<rect x="315.50" y="493.25" width="6.2" height="6.2" fill="#8f8f8f" stroke="#3a3a3a" stroke-width="0.9"/>
<path d="M55.00,491.80 L59.40,485.10 L63.80,491.80 Z" fill="#231f20"/>
<path d="M119.80,435.50 L124.20,428.80 L128.60,435.50 Z" fill="#231f20"/>
<path d="M184.60,398.90 L189.00,392.20 L193.40,398.90 Z" fill="#231f20"/>
<path d="M249.40,376.50 L253.80,369.80 L258.20,376.50 Z" fill="#231f20"/>
<path d="M314.20,342.00 L318.60,335.30 L323.00,342.00 Z" fill="#231f20"/>
<text x="358.54" y="274.50" font-size="17" font-weight="bold" textLength="10.96" lengthAdjust="spacingAndGlyphs" fill="#000">d</text>
<path d="M404.4,292.90 V514.5 H685.5" fill="none" stroke="#363636" stroke-width="1.1"/>
<line x1="399.60" y1="514.50" x2="404.40" y2="514.50" stroke="#363636" stroke-width="1.1"/>
<text x="381.69" y="518.00" font-size="10.3" textLength="15.11" lengthAdjust="spacingAndGlyphs" fill="#231f20">0.0</text>
<line x1="399.60" y1="470.18" x2="404.40" y2="470.18" stroke="#363636" stroke-width="1.1"/>
<text x="381.82" y="473.68" font-size="10.3" textLength="15.11" lengthAdjust="spacingAndGlyphs" fill="#231f20">0.1</text>
<line x1="399.60" y1="425.86" x2="404.40" y2="425.86" stroke="#363636" stroke-width="1.1"/>
<text x="381.82" y="429.36" font-size="10.3" textLength="15.11" lengthAdjust="spacingAndGlyphs" fill="#231f20">0.2</text>
<line x1="399.60" y1="381.54" x2="404.40" y2="381.54" stroke="#363636" stroke-width="1.1"/>
<text x="381.82" y="385.04" font-size="10.3" textLength="15.11" lengthAdjust="spacingAndGlyphs" fill="#231f20">0.3</text>
<line x1="399.60" y1="337.22" x2="404.40" y2="337.22" stroke="#363636" stroke-width="1.1"/>
<text x="381.69" y="340.72" font-size="10.3" textLength="15.11" lengthAdjust="spacingAndGlyphs" fill="#231f20">0.4</text>
<line x1="399.60" y1="292.90" x2="404.40" y2="292.90" stroke="#363636" stroke-width="1.1"/>
<text x="381.82" y="296.40" font-size="10.3" textLength="15.11" lengthAdjust="spacingAndGlyphs" fill="#231f20">0.5</text>
<line x1="401.40" y1="492.34" x2="404.40" y2="492.34" stroke="#363636" stroke-width="1.1"/>
<line x1="401.40" y1="448.02" x2="404.40" y2="448.02" stroke="#363636" stroke-width="1.1"/>
<line x1="401.40" y1="403.70" x2="404.40" y2="403.70" stroke="#363636" stroke-width="1.1"/>
<line x1="401.40" y1="359.38" x2="404.40" y2="359.38" stroke="#363636" stroke-width="1.1"/>
<line x1="401.40" y1="315.06" x2="404.40" y2="315.06" stroke="#363636" stroke-width="1.1"/>
<line x1="497.60" y1="514.50" x2="497.60" y2="524.80" stroke="#363636" stroke-width="1.1"/>
<line x1="591.60" y1="514.50" x2="591.60" y2="524.80" stroke="#363636" stroke-width="1.1"/>
<rect x="415.50" y="397.50" width="23.8" height="117.00" fill="#d3d3d3" stroke="#6a6a6a" stroke-width="1"/>
<rect x="462.50" y="496.11" width="23.8" height="18.39" fill="#d3d3d3" stroke="#6a6a6a" stroke-width="1"/>
<rect x="509.50" y="332.79" width="23.8" height="181.71" fill="#5684b7" stroke="#6a6a6a" stroke-width="1"/>
<rect x="556.30" y="502.98" width="23.8" height="11.52" fill="#5684b7" stroke="#6a6a6a" stroke-width="1"/>
<rect x="603.30" y="372.23" width="23.8" height="142.27" fill="#7ca157" stroke="#6a6a6a" stroke-width="1"/>
<rect x="650.10" y="479.04" width="23.8" height="35.46" fill="#7ca157" stroke="#6a6a6a" stroke-width="1"/>
<rect x="425.30" y="391.60" width="4.4" height="4.4" fill="#000"/>
<rect x="425.30" y="399.40" width="4.4" height="4.4" fill="#000"/>
<rect x="472.20" y="491.40" width="4.4" height="4.4" fill="#000"/>
<rect x="472.20" y="495.30" width="4.4" height="4.4" fill="#000"/>
<rect x="519.10" y="322.30" width="4.4" height="4.4" fill="#000"/>
<rect x="519.10" y="339.40" width="4.4" height="4.4" fill="#000"/>
<rect x="566.00" y="500.40" width="4.4" height="4.4" fill="#000"/>
<rect x="566.00" y="502.00" width="4.4" height="4.4" fill="#000"/>
<rect x="612.60" y="351.30" width="4.4" height="4.4" fill="#000"/>
<rect x="612.60" y="388.30" width="4.4" height="4.4" fill="#000"/>
<rect x="659.60" y="475.40" width="4.4" height="4.4" fill="#000"/>
<rect x="659.60" y="478.30" width="4.4" height="4.4" fill="#000"/>
<text x="411.87" y="527.60" font-size="10.2" textLength="30.83" lengthAdjust="spacingAndGlyphs" fill="#231f20">peak 1</text>
<text x="505.87" y="527.60" font-size="10.2" textLength="30.83" lengthAdjust="spacingAndGlyphs" fill="#231f20">peak 1</text>
<text x="599.67" y="527.60" font-size="10.2" textLength="30.83" lengthAdjust="spacingAndGlyphs" fill="#231f20">peak 1</text>
<text x="458.51" y="527.60" font-size="10.2" textLength="31.55" lengthAdjust="spacingAndGlyphs" fill="#231f20">peak 2</text>
<text x="552.31" y="527.60" font-size="10.2" textLength="31.55" lengthAdjust="spacingAndGlyphs" fill="#231f20">peak 2</text>
<text x="646.11" y="527.60" font-size="10.2" textLength="31.55" lengthAdjust="spacingAndGlyphs" fill="#231f20">peak 2</text>
<text x="420.89" y="545.70" font-size="11.0" textLength="59.36" lengthAdjust="spacingAndGlyphs" fill="#231f20">NLRP3 (wt)</text>
<text x="504.98" y="545.70" font-size="11.0" textLength="83.45" lengthAdjust="spacingAndGlyphs" fill="#231f20">NLRP3 (C838S)</text>
<text x="600.39" y="545.70" font-size="11.0" textLength="81.77" lengthAdjust="spacingAndGlyphs" fill="#231f20">NLRP3 (T233S)</text>
<text transform="translate(373.20,457.60) rotate(-90)" x="-0.54" y="0" font-size="10.6" textLength="109.91" lengthAdjust="spacingAndGlyphs" fill="#231f20">absorbance (620 nm)</text>
</svg>
</body></html>
